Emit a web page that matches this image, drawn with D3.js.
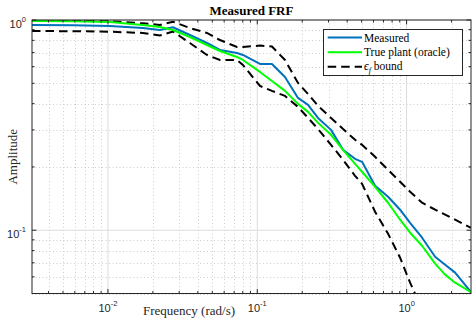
<!DOCTYPE html>
<html><head><meta charset="utf-8">
<script src="https://cdn.jsdelivr.net/npm/d3@7/dist/d3.min.js"></script>
<style>body{margin:0;background:#fff}svg{display:block}</style>
</head><body><svg id="c" width="472" height="322"></svg>
<script>
// ---- data ----
const freq = [0.0031, 0.005816, 0.0103, 0.01714, 0.02228, 0.02723, 0.03539, 0.04601, 0.05623, 0.07309,
  0.08017, 0.1042, 0.1254, 0.1533, 0.1874, 0.2187, 0.2551, 0.3119, 0.3753, 0.4517,
  0.5031, 0.615, 0.7516, 0.9046, 1.0555, 1.27, 1.5525, 1.8115, 2.114, 2.7];
const measured = [0.9468, 0.9437, 0.9365, 0.9162, 0.8964, 0.9233, 0.8487, 0.7773, 0.7201, 0.6969,
  0.6818, 0.6179, 0.6179, 0.536, 0.426, 0.3947, 0.3422, 0.3001, 0.2412, 0.2186,
  0.2115, 0.1627, 0.1442, 0.1252, 0.1085, 0.09212, 0.07481, 0.06857, 0.06284, 0.0508];
const truePlant = [0.9891, 0.9869, 0.9784, 0.9468, 0.9263, 0.8964, 0.8303, 0.7606, 0.7122, 0.667,
  0.6455, 0.5662, 0.513, 0.46, 0.399, 0.3656, 0.3241, 0.2842, 0.2412, 0.207,
  0.1897, 0.1609, 0.1351, 0.1122, 0.0973, 0.08437, 0.06933, 0.06148, 0.0563, 0.0508];
const boundUpper = [0.992, 0.99, 0.985, 0.9645, 0.9468, 0.9816, 0.9162, 0.8675, 0.8035, 0.7438,
  0.7438, 0.7561, 0.7479, 0.6455, 0.5019, 0.445, 0.3904, 0.3422, 0.3034, 0.2691,
  0.2547, 0.2234, 0.1938, 0.17, 0.1524, 0.1351, 0.1252, 0.1185, 0.1122, 0.1027];
const boundLower = [0.8865, 0.8846, 0.8798, 0.8675, 0.8441, 0.8818, 0.7773, 0.6818, 0.6455, 0.6455,
  0.6112, 0.4857, 0.46, 0.4354, 0.3862, 0.3422, 0.3034, 0.2547, 0.2163, 0.1815,
  0.1663, 0.1224, 0.09624, 0.074, 0.0563, 0.04193, null, null, null, null];
const xDomain = [0.0031, 2.7];
const yDomain = [0.05, 1];
const xTickExps = [-2, -1, 0];
const yTickExps = [-1, 0];
const titleText = "Measured FRF";
const xLabel = "Frequency (rad/s)";
const yLabel = "Amplitude";

// ---- layout ----
const svg = d3.select("#c");
const L = 32, R = 471, T = 20, B = 293.5;
const x = d3.scaleLog().domain(xDomain).range([L, R]);
const y = d3.scaleLog().domain(yDomain).range([B, T]);
const axisColor = "#262626";

svg.append("rect").attr("x", 0).attr("y", 0).attr("width", 472).attr("height", 322).attr("fill", "#fff");

const xMinor = [], yMinor = [];
for (let e = -3; e <= 0; e++) for (let m = 2; m <= 9; m++) { const v = m * Math.pow(10, e); if (v > xDomain[0] && v < xDomain[1]) xMinor.push(v); }
for (let e = -2; e <= 0; e++) for (let m = 2; m <= 9; m++) { const v = m * Math.pow(10, e); if (v >= yDomain[0] && v < yDomain[1]) yMinor.push(v); }
const xMajor = xTickExps.map(e => Math.pow(10, e));
const yMajor = yTickExps.map(e => Math.pow(10, e));

const grid = svg.append("g");
grid.selectAll(".xm").data(xMinor).join("line")
  .attr("x1", d => Math.round(x(d)) + 0.5).attr("x2", d => Math.round(x(d)) + 0.5).attr("y1", T).attr("y2", B)
  .attr("stroke", "#cdcdcd").attr("stroke-width", 1).attr("stroke-dasharray", "1,2.5");
grid.selectAll(".ym").data(yMinor).join("line")
  .attr("y1", d => Math.round(y(d)) + 0.5).attr("y2", d => Math.round(y(d)) + 0.5).attr("x1", L).attr("x2", R)
  .attr("stroke", "#cdcdcd").attr("stroke-width", 1).attr("stroke-dasharray", "1,2.5");
grid.selectAll(".xM").data(xMajor).join("line")
  .attr("x1", d => x(d)).attr("x2", d => x(d)).attr("y1", T).attr("y2", B)
  .attr("stroke", "#dcdcdc").attr("stroke-width", 1);
grid.selectAll(".yM").data(yMajor).join("line")
  .attr("y1", d => y(d)).attr("y2", d => y(d)).attr("x1", L).attr("x2", R)
  .attr("stroke", "#dcdcdc").attr("stroke-width", 1);

// lines
svg.append("clipPath").attr("id", "pc").append("rect")
  .attr("x", L).attr("y", T).attr("width", R - L).attr("height", B - T);
const plot = svg.append("g").attr("clip-path", "url(#pc)");
const mk = arr => d3.line().defined((d, i) => arr[i] != null).x((d, i) => x(freq[i])).y((d, i) => y(arr[i]));
plot.append("path").attr("d", mk(boundUpper)(freq)).attr("fill", "none").attr("stroke", "#000")
  .attr("stroke-width", 2).attr("stroke-dasharray", "8.5,5");
plot.append("path").attr("d", mk(boundLower)(freq)).attr("fill", "none").attr("stroke", "#000")
  .attr("stroke-width", 2).attr("stroke-dasharray", "8.5,5");
plot.append("path").attr("d", mk(measured)(freq)).attr("fill", "none").attr("stroke", "#0072BD")
  .attr("stroke-width", 2).attr("stroke-linejoin", "round");
plot.append("path").attr("d", mk(truePlant)(freq)).attr("fill", "none").attr("stroke", "#00FF00")
  .attr("stroke-width", 2).attr("stroke-linejoin", "round");

// box and ticks
const ax = svg.append("g").attr("stroke", axisColor).attr("fill", "none");
ax.append("rect").attr("x", L).attr("y", T).attr("width", R - L).attr("height", B - T).attr("stroke-width", 1);
const tk = (vals, len, isX) => {
  vals.forEach(v => {
    if (isX) {
      const p = x(v);
      ax.append("line").attr("x1", p).attr("x2", p).attr("y1", B).attr("y2", B - len);
      ax.append("line").attr("x1", p).attr("x2", p).attr("y1", T).attr("y2", T + len);
    } else {
      const p = y(v);
      ax.append("line").attr("y1", p).attr("y2", p).attr("x1", L).attr("x2", L + len);
      ax.append("line").attr("y1", p).attr("y2", p).attr("x1", R).attr("x2", R - len);
    }
  });
};
tk(xMinor, 2.5, true); tk(xMajor, 4.4, true);
tk(yMinor, 2.5, false); tk(yMajor, 4.4, false);

// tick labels
const sans = "'Liberation Sans', Arial, sans-serif";
xTickExps.forEach(e => {
  const t = svg.append("text").attr("x", x(Math.pow(10, e))).attr("y", 311.5)
    .attr("text-anchor", "middle").attr("font-family", sans).attr("font-size", 11).attr("fill", axisColor);
  t.append("tspan").text("10");
  t.append("tspan").attr("dy", -5.5).attr("font-size", 7.5).text(e === 0 ? "0" : "-" + Math.abs(e));
});
yTickExps.forEach(e => {
  const t = svg.append("text").attr("x", 26).attr("y", y(Math.pow(10, e)) + 7.5)
    .attr("text-anchor", "end").attr("font-family", sans).attr("font-size", 11).attr("fill", axisColor);
  t.append("tspan").text("10");
  t.append("tspan").attr("dy", -5.5).attr("font-size", 7.5).text(e === 0 ? "0" : "-" + Math.abs(e));
});

// title and labels
const serif = "'Liberation Serif', 'Times New Roman', serif";
svg.append("text").attr("x", (L + R) / 2).attr("y", 14.5).attr("text-anchor", "middle")
  .attr("font-family", serif).attr("font-weight", "bold").attr("font-size", 13).attr("fill", "#000").text(titleText);
svg.append("text").attr("x", 189).attr("y", 314.5).attr("text-anchor", "middle")
  .attr("font-family", serif).attr("font-size", 13).attr("fill", axisColor).text(xLabel);
svg.append("text").attr("transform", `translate(17,${(T + B) / 2}) rotate(-90)`).attr("text-anchor", "middle")
  .attr("font-family", serif).attr("font-size", 13).attr("fill", axisColor).text(yLabel);

// legend
const lg = svg.append("g");
lg.append("rect").attr("x", 323.5).attr("y", 29.5).attr("width", 139).attr("height", 46)
  .attr("fill", "#fff").attr("stroke", axisColor).attr("stroke-width", 1);
const items = [
  {c: "#0072BD", dash: null, yy: 37.5},
  {c: "#00FF00", dash: null, yy: 52.3},
  {c: "#000", dash: "8.5,5", yy: 66.7}
];
items.forEach(it => {
  lg.append("line").attr("x1", 327.7).attr("x2", 362).attr("y1", it.yy).attr("y2", it.yy)
    .attr("stroke", it.c).attr("stroke-width", 2).attr("stroke-dasharray", it.dash);
});
lg.append("text").attr("x", 364).attr("y", items[0].yy + 4).attr("font-family", serif).attr("font-size", 11.5).attr("fill", "#000").text("Measured");
lg.append("text").attr("x", 364).attr("y", items[1].yy + 4).attr("font-family", serif).attr("font-size", 11.5).attr("fill", "#000").text("True plant (oracle)");
const et = lg.append("text").attr("x", 364).attr("y", items[2].yy + 3.5).attr("font-family", serif).attr("font-size", 11.5).attr("fill", "#000");
et.append("tspan").attr("font-style", "italic").text("ϵ");
et.append("tspan").attr("font-style", "italic").attr("font-size", 8).attr("dy", 2.5).text("f");
et.append("tspan").attr("dy", -2.5).text(" bound");
</script>
</body></html>
